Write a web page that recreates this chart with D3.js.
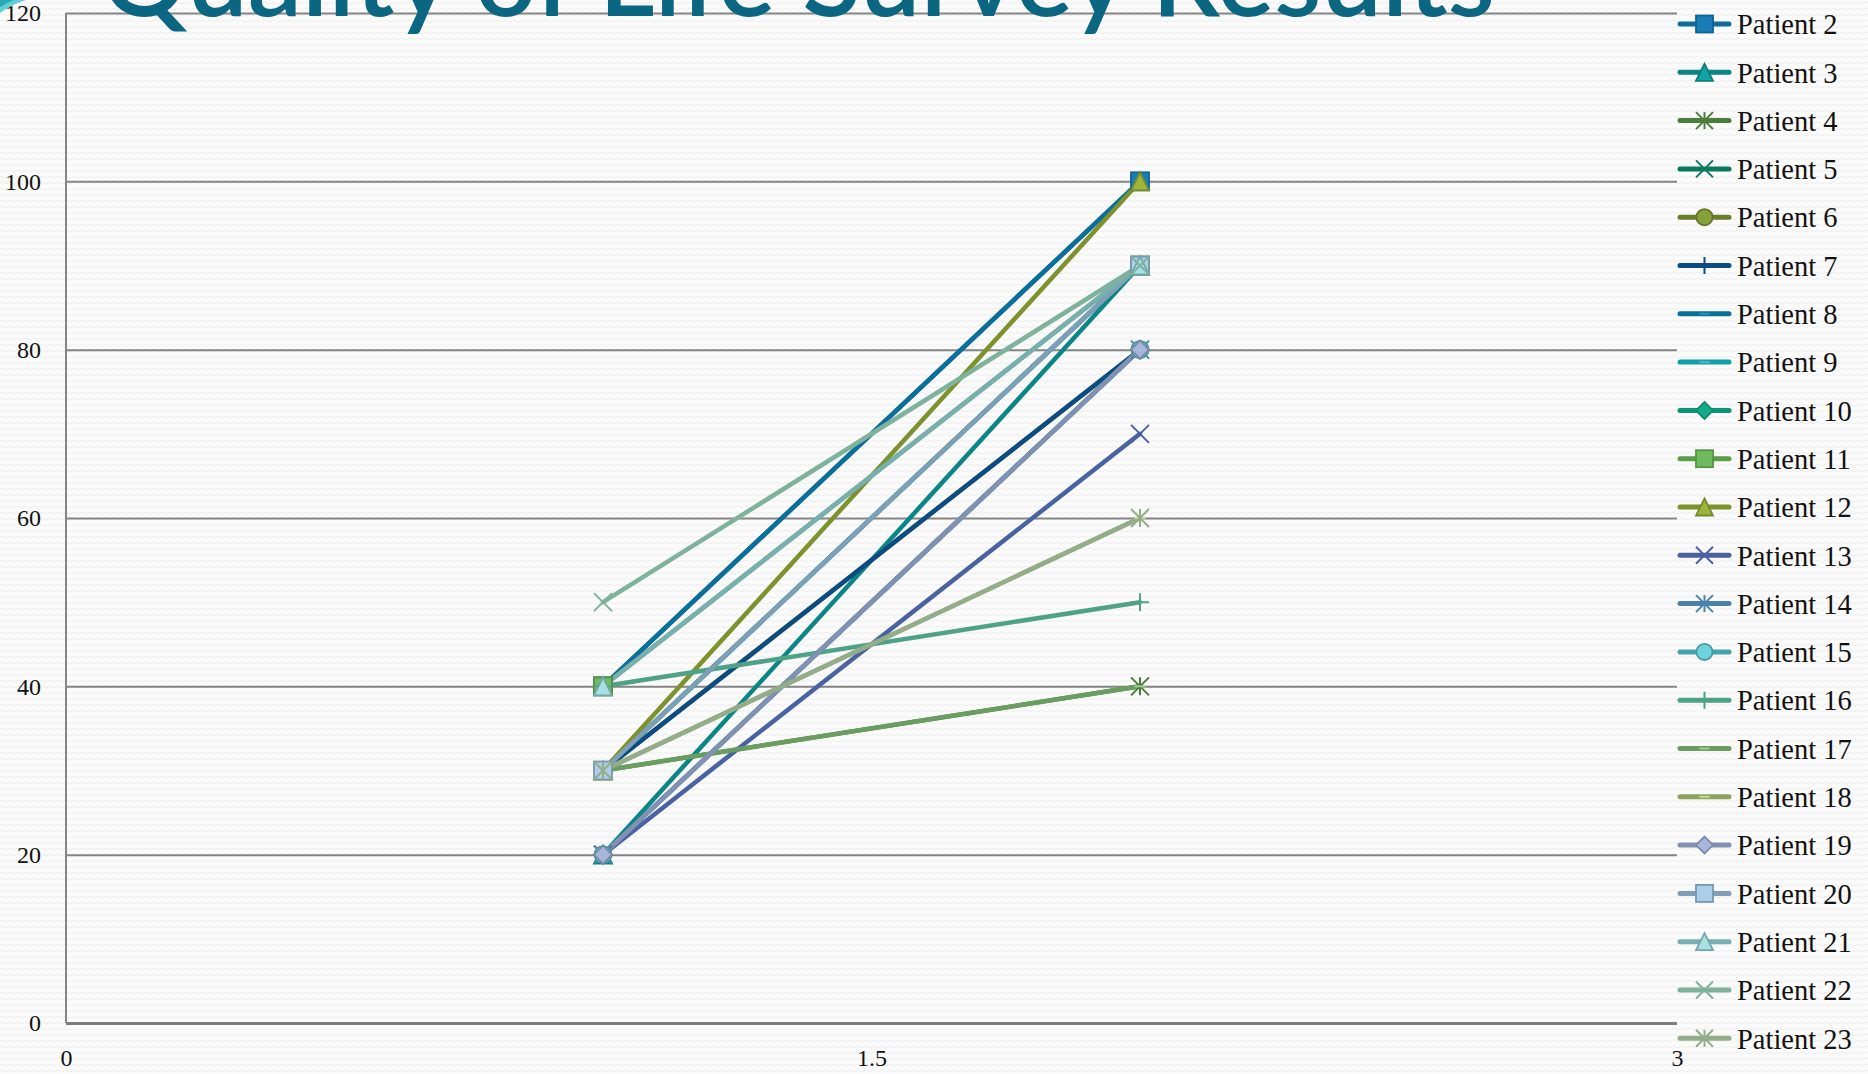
<!DOCTYPE html>
<html>
<head>
<meta charset="utf-8">
<script src="https://cdn.jsdelivr.net/npm/d3@7"></script>
<style>
  html, body { margin: 0; padding: 0; background: #fafafa; overflow: hidden; }
  svg { display: block; }
</style>
</head>
<body>
<svg id="chart" width="1868" height="1074"></svg>
<script>
// Survey results: each patient answered twice (survey 1 and survey 2)
const patients = [
  "Patient 2", "Patient 3", "Patient 4", "Patient 5", "Patient 6", "Patient 7",
  "Patient 8", "Patient 9", "Patient 10", "Patient 11", "Patient 12", "Patient 13",
  "Patient 14", "Patient 15", "Patient 16", "Patient 17", "Patient 18", "Patient 19",
  "Patient 20", "Patient 21", "Patient 22", "Patient 23"
];
const surveyX = [1, 2];
const firstSurvey  = [40, 20, 30, 30, 30, 30, 40, 30, 20, 40, 30, 20, 20, 20, 40, 30, 30, 20, 30, 40, 50, 30];
const secondSurvey = [100, 90, 40, 90, 80, 80, 100, 90, 80, 90, 100, 70, 80, 80, 50, 40, 60, 80, 90, 90, 90, 60];

const lineColors = [
  "#0e6d9c", "#0b8585", "#4d7c3a", "#0b7a5c", "#6b7d2c", "#0b4c84",
  "#0b6f9c", "#12a0a6", "#0b9474", "#5a9c48", "#7d922c", "#4a63a0",
  "#4a82ac", "#46a3ab", "#4ea287", "#6a9e60", "#8fa35d", "#8390b3",
  "#7f9fb8", "#78afb1", "#7eb29d", "#93ad8a"
];
const markerFills = [
  "#1a7db5", "#14a3a3", "#4d7c3a", "#0b7a5c", "#87a03a", "#0b4c84",
  "#2a8fc4", "#3cc0c6", "#13ab88", "#6fba5d", "#9db53a", "#4a63a0",
  "#4a82ac", "#6fd3dc", "#4ea287", "#9ccf90", "#c8d890", "#a8b6dc",
  "#aecde6", "#a7e1e3", "#7eb29d", "#93ad8a"
];
const markerShapes = [
  "square", "triangle", "asterisk", "x", "circle", "plus",
  "dash", "dash", "diamond", "square", "triangle", "x",
  "asterisk", "circle", "plus", "dash", "dash", "diamond",
  "square", "triangle", "x", "asterisk"
];

const yTicks = [0, 20, 40, 60, 80, 100, 120];
const xTicks = [0, 1.5, 3];
const titleText = "Quality of Life Survey Results";

const svg = d3.select("#chart");
const W = 1868, H = 1074;
const plot = { left: 66, right: 1677, top: 13, bottom: 1023 };

// faint woven background
const defs = svg.append("defs");
const pat = defs.append("pattern").attr("id", "weave")
  .attr("patternUnits", "userSpaceOnUse").attr("width", 8).attr("height", 6);
pat.append("rect").attr("width", 8).attr("height", 6).attr("fill", "#fbfbfb");
pat.append("path").attr("d", "M0 3 Q2 1 4 3 T8 3")
  .attr("fill", "none").attr("stroke", "#ededed").attr("stroke-width", 1);
svg.append("rect").attr("width", W).attr("height", H).attr("fill", "url(#weave)");

// small accent in the top-left corner
svg.append("path").attr("d", "M0 0 L26 0 Q12 4 0 13 Z").attr("fill", "#5fcfd8");
svg.append("path").attr("d", "M0 0 L14 0 Q6 3 0 7 Z").attr("fill", "#2aa9b8");

const x = d3.scaleLinear().domain([0, 3]).range([plot.left, plot.right]);
const y = d3.scaleLinear().domain([0, 120]).range([plot.bottom, plot.top]);

const numFont = "'Liberation Serif', 'DejaVu Serif', serif";

// horizontal gridlines + y labels
const yAxis = d3.axisLeft(y).tickValues(yTicks).tickSize(-(plot.right - plot.left)).tickFormat(d3.format("d"));
const gy = svg.append("g").attr("transform", `translate(${plot.left},0)`).call(yAxis);
gy.select(".domain").remove();
gy.selectAll(".tick line").attr("stroke", "#858585").attr("stroke-width", 2)
  .filter(d => d === 0).attr("stroke-width", 3).attr("stroke", "#7d7d7d");
gy.selectAll(".tick text").attr("x", -25).attr("dy", "0.32em")
  .attr("fill", "#111").attr("font-family", numFont).attr("font-size", 24)
  .style("font-variant-numeric", "oldstyle-nums");

// vertical axis line
svg.append("line").attr("x1", plot.left).attr("x2", plot.left)
  .attr("y1", plot.top).attr("y2", plot.bottom)
  .attr("stroke", "#858585").attr("stroke-width", 2);

// x labels
const xAxis = d3.axisBottom(x).tickValues(xTicks).tickSize(0).tickFormat(d => String(d));
const gx = svg.append("g").attr("transform", `translate(0,${plot.bottom})`).call(xAxis);
gx.select(".domain").remove();
gx.selectAll(".tick text").attr("y", 43).attr("dy", "0")
  .attr("fill", "#111").attr("font-family", numFont).attr("font-size", 24)
  .style("font-variant-numeric", "oldstyle-nums");

// marker drawing
function drawMarker(g, shape, cx, cy, s, stroke, fill) {
  const h = s / 2;
  const m = g.append("g").attr("transform", `translate(${cx},${cy})`);
  if (shape === "square") {
    m.append("rect").attr("x", -h).attr("y", -h).attr("width", s).attr("height", s)
      .attr("fill", fill).attr("stroke", stroke).attr("stroke-width", 1.8);
  } else if (shape === "triangle") {
    m.append("path").attr("d", `M0 ${-h} L${h} ${h} L${-h} ${h} Z`)
      .attr("fill", fill).attr("stroke", stroke).attr("stroke-width", 1.8);
  } else if (shape === "diamond") {
    m.append("path").attr("d", `M0 ${-h} L${h} 0 L0 ${h} L${-h} 0 Z`)
      .attr("fill", fill).attr("stroke", stroke).attr("stroke-width", 1.8);
  } else if (shape === "circle") {
    m.append("circle").attr("r", h * 0.95)
      .attr("fill", fill).attr("stroke", stroke).attr("stroke-width", 1.8);
  } else if (shape === "x" || shape === "asterisk") {
    m.append("path").attr("d", `M${-h} ${-h} L${h} ${h} M${h} ${-h} L${-h} ${h}`)
      .attr("stroke", stroke).attr("stroke-width", 2);
    if (shape === "asterisk") {
      m.append("path").attr("d", `M0 ${-h} L0 ${h}`).attr("stroke", stroke).attr("stroke-width", 2);
    }
  } else if (shape === "plus") {
    m.append("path").attr("d", `M${-h} 0 L${h} 0 M0 ${-h} L0 ${h}`)
      .attr("stroke", stroke).attr("stroke-width", 2);
  } else if (shape === "dash") {
    m.append("path").attr("d", `M${-h * 0.6} 0 L${h * 0.6} 0`)
      .attr("stroke", fill).attr("stroke-width", 2);
  }
}

const series = patients.map((name, i) => ({
  name, i,
  pts: [[surveyX[0], firstSurvey[i]], [surveyX[1], secondSurvey[i]]]
}));

const line = d3.line().x(d => x(d[0])).y(d => y(d[1]));
const gLines = svg.append("g");
series.forEach(s => {
  gLines.append("path").attr("d", line(s.pts)).attr("fill", "none")
    .attr("stroke", lineColors[s.i]).attr("stroke-width", 4.5)
    .attr("stroke-linecap", "round");
});
const gMarks = svg.append("g");
series.forEach(s => {
  s.pts.forEach(p => {
    const shape = markerShapes[s.i];
    const stroke = (shape === "x" || shape === "asterisk" || shape === "plus") ? lineColors[s.i]
      : d3.color(lineColors[s.i]).darker(0.15).formatHex();
    drawMarker(gMarks, shape, x(p[0]), y(p[1]), 18, stroke, markerFills[s.i]);
  });
});

// legend
const legend = svg.append("g");
const legTop = 24, legStep = 48.3;
patients.forEach((name, i) => {
  const cy = legTop + i * legStep;
  const g = legend.append("g");
  g.append("line").attr("x1", 1680).attr("x2", 1729).attr("y1", cy).attr("y2", cy)
    .attr("stroke", lineColors[i]).attr("stroke-width", 5).attr("stroke-linecap", "round");
  const shape = markerShapes[i];
  const stroke = (shape === "x" || shape === "asterisk" || shape === "plus") ? lineColors[i]
    : d3.color(lineColors[i]).darker(0.15).formatHex();
  drawMarker(g, shape, 1704.5, cy, 17, stroke, markerFills[i]);
  g.append("text").attr("x", 1737).attr("y", cy).attr("dy", "0.36em")
    .attr("font-family", numFont).attr("font-size", 28.5).attr("fill", "#111")
    .style("font-variant-numeric", "oldstyle-nums")
    .text(name);
});

// title, partly above the top edge
const title = svg.append("text").attr("x", 101).attr("y", 16)
  .attr("font-family", "Lato, 'Open Sans', sans-serif").attr("font-size", 92)
  .attr("font-weight", 600)
  .attr("fill", "#0b6682").text(titleText);
const tw = title.node().getComputedTextLength();
title.attr("font-size", 92 * 1394 / tw);
</script>
</body>
</html>
